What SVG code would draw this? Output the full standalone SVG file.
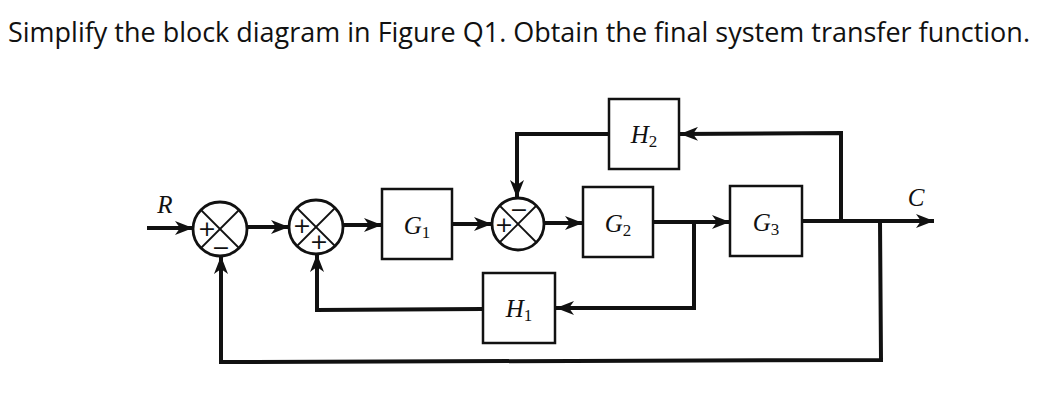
<svg xmlns="http://www.w3.org/2000/svg" width="1057" height="415" viewBox="0 0 1057 415">
<style>
.title{font-family:"Open Sans","Liberation Sans",sans-serif;font-size:27px;fill:#111}
.blk{fill:#fff;stroke:#111;stroke-width:2.5}
.sum{fill:#fff;stroke:#111;stroke-width:2.8}
.x{stroke:#111;stroke-width:1.8}
.lbl{font-family:"Liberation Serif","DejaVu Serif",serif;font-size:25px;fill:#111;text-anchor:middle}
.it{font-style:italic}
.sg{font-family:"DejaVu Sans","Liberation Sans",sans-serif;font-size:22px;fill:#111;text-anchor:middle}
.wire{fill:none;stroke:#111;stroke-width:4;stroke-linejoin:miter}
</style>
<defs>
<marker id="ah" markerUnits="userSpaceOnUse" markerWidth="20" markerHeight="14" refX="18" refY="7" orient="auto">
<path d="M0,0 L18,7 L0,14 L5,7 z" fill="#111"/>
</marker>
</defs>
<rect width="1057" height="415" fill="#fff"/>
<text class="title" x="8" y="42" textLength="1022" lengthAdjust="spacingAndGlyphs">Simplify the block diagram in Figure Q1. Obtain the final system transfer function.</text>

<g id="connectors">
<path class="wire" d="M147,228 L193,228" marker-end="url(#ah)"/>
<path class="wire" d="M247,227 L289,227" marker-end="url(#ah)"/>
<path class="wire" d="M343,225 L382,225" marker-end="url(#ah)"/>
<path class="wire" d="M452,224 L492,224" marker-end="url(#ah)"/>
<path class="wire" d="M544,223 L583,223" marker-end="url(#ah)"/>
<path class="wire" d="M653,222 L730,222" marker-end="url(#ah)"/>
<path class="wire" d="M802,221 L934,221" marker-end="url(#ah)"/>
<path class="wire" d="M841,221 L841,133 L680,134" marker-end="url(#ah)"/>
<path class="wire" d="M609,134 L517,134 L517,198" marker-end="url(#ah)"/>
<path class="wire" d="M694,222 L694,308 L556,308" marker-end="url(#ah)"/>
<path class="wire" d="M483,309 L317,310 L317,254" marker-end="url(#ah)"/>
<path class="wire" d="M880,221 L881,360 L221,362 L221,256" marker-end="url(#ah)"/>
</g>

<g id="R"><text class="lbl it" x="165" y="213">R</text></g>
<g id="C"><text class="lbl it" x="916" y="206">C</text></g>

<g id="sum1">
<circle class="sum" cx="220" cy="229" r="27"/>
<line class="x" x1="201" y1="210" x2="239" y2="248"/>
<line class="x" x1="239" y1="210" x2="201" y2="248"/>
<text class="sg" x="207" y="236">+</text>
<text class="sg" x="221" y="255">−</text>
</g>

<g id="sum2">
<circle class="sum" cx="316" cy="227" r="27"/>
<line class="x" x1="297" y1="208" x2="335" y2="246"/>
<line class="x" x1="335" y1="208" x2="297" y2="246"/>
<text class="sg" x="302" y="233">+</text>
<text class="sg" x="319" y="249">+</text>
</g>

<g id="sum3">
<circle class="sum" cx="518" cy="224" r="26"/>
<line class="x" x1="500" y1="206" x2="536" y2="242"/>
<line class="x" x1="536" y1="206" x2="500" y2="242"/>
<text class="sg" x="504" y="232">+</text>
<text class="sg" x="519" y="217">−</text>
</g>

<g id="G1">
<rect class="blk" x="382" y="189" width="70" height="70"/>
<text class="lbl" x="417" y="234"><tspan class="it">G</tspan><tspan font-size="17" dy="4">1</tspan></text>
</g>
<g id="G2">
<rect class="blk" x="583" y="187" width="70" height="70"/>
<text class="lbl" x="618" y="232"><tspan class="it">G</tspan><tspan font-size="17" dy="4">2</tspan></text>
</g>
<g id="G3">
<rect class="blk" x="730" y="186" width="72" height="70"/>
<text class="lbl" x="766" y="231"><tspan class="it">G</tspan><tspan font-size="17" dy="4">3</tspan></text>
</g>
<g id="H2">
<rect class="blk" x="609" y="99" width="70" height="70"/>
<text class="lbl" x="644" y="143"><tspan class="it">H</tspan><tspan font-size="17" dy="4">2</tspan></text>
</g>
<g id="H1">
<rect class="blk" x="483" y="273" width="72" height="70"/>
<text class="lbl" x="519" y="317"><tspan class="it">H</tspan><tspan font-size="17" dy="4">1</tspan></text>
</g>
</svg>
